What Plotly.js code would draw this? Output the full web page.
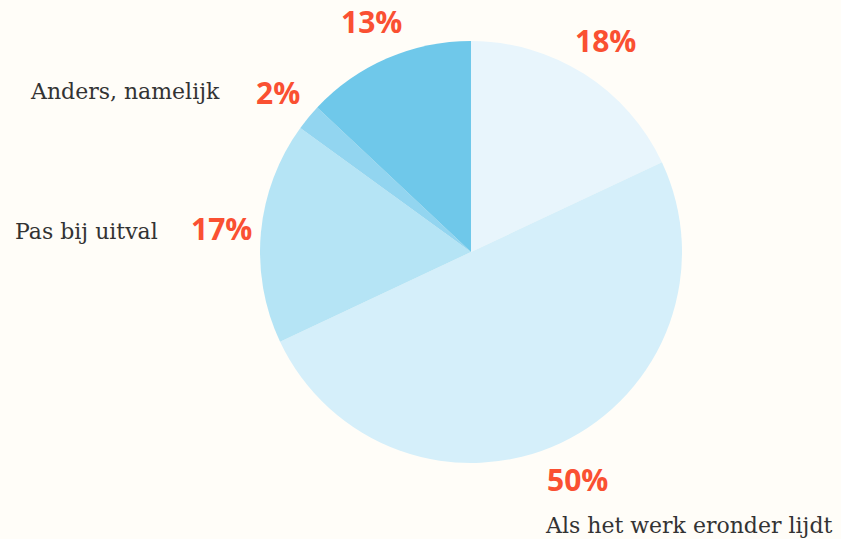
<!DOCTYPE html>
<html>
<head>
<meta charset="utf-8">
<script src="https://cdn.plot.ly/plotly-3.0.1.min.js"></script>
<style>html,body{margin:0;padding:0;background:#fffdf8;}#chart{width:841px;height:539px;}</style>
</head>
<body>
<div id="chart"></div>
<script>
// Data
const shares = [18, 50, 17, 2, 13];
const categories = ["", "Als het werk eronder lijdt", "Pas bij uitval", "Anders, namelijk", ""];
const sliceColors = ["#e8f5fc", "#d5effa", "#b5e4f5", "#92d5f0", "#6fc8ea"];

// Layout geometry (pixels)
const W = 841, H = 539;
const CX = 471, CY = 252, R = 211;
const labelGap = 40;   // distance of percent label centre beyond the rim

const trace = {
  type: 'pie',
  values: shares,
  sort: false,
  direction: 'clockwise',
  rotation: 0,
  marker: {colors: sliceColors, line: {width: 0}},
  textinfo: 'none',
  hoverinfo: 'skip',
  showlegend: false,
  domain: {x: [(CX - R) / W, (CX + R) / W], y: [(H - CY - R) / H, (H - CY + R) / H]}
};

const annotations = [];
// Percent labels, placed at each slice's mid-angle
const total = shares.reduce((a, b) => a + b, 0);
let cum = 0;
shares.forEach((v, i) => {
  const mid = (cum + v / 2) / total * 360;
  cum += v;
  const rad = mid * Math.PI / 180;
  const px = CX + (R + labelGap) * Math.sin(rad);
  const py = CY - (R + labelGap) * Math.cos(rad);
  annotations.push({
    text: '<b>' + Math.round(v / total * 100) + '%</b>', showarrow: false,
    xref: 'paper', yref: 'paper', x: px / W, y: 1 - py / H,
    xanchor: 'center', yanchor: 'middle',
    font: {family: 'Open Sans', size: 30, color: '#fa5032'}
  });
});

// Category labels (only those visible)
const labelSpots = [null, {x: 543, y: 525, xanchor: 'left'}, {x: 160, y: 232, xanchor: 'right'}, {x: 222, y: 92, xanchor: 'right'}, null];
categories.forEach((c, i) => {
  if (!c || !labelSpots[i]) return;
  const s = labelSpots[i];
  annotations.push({
    text: c, showarrow: false, xref: 'paper', yref: 'paper',
    x: s.x / W, y: 1 - s.y / H, xanchor: s.xanchor, yanchor: 'middle',
    font: {family: 'DejaVu Serif', size: 22, color: '#333333'}
  });
});

const layout = {
  width: W, height: H,
  margin: {l: 0, r: 0, t: 0, b: 0},
  paper_bgcolor: '#fffdf8',
  plot_bgcolor: '#fffdf8',
  annotations: annotations,
  showlegend: false
};
Plotly.newPlot('chart', [trace], layout, {displayModeBar: false, staticPlot: true});
</script>
</body>
</html>
